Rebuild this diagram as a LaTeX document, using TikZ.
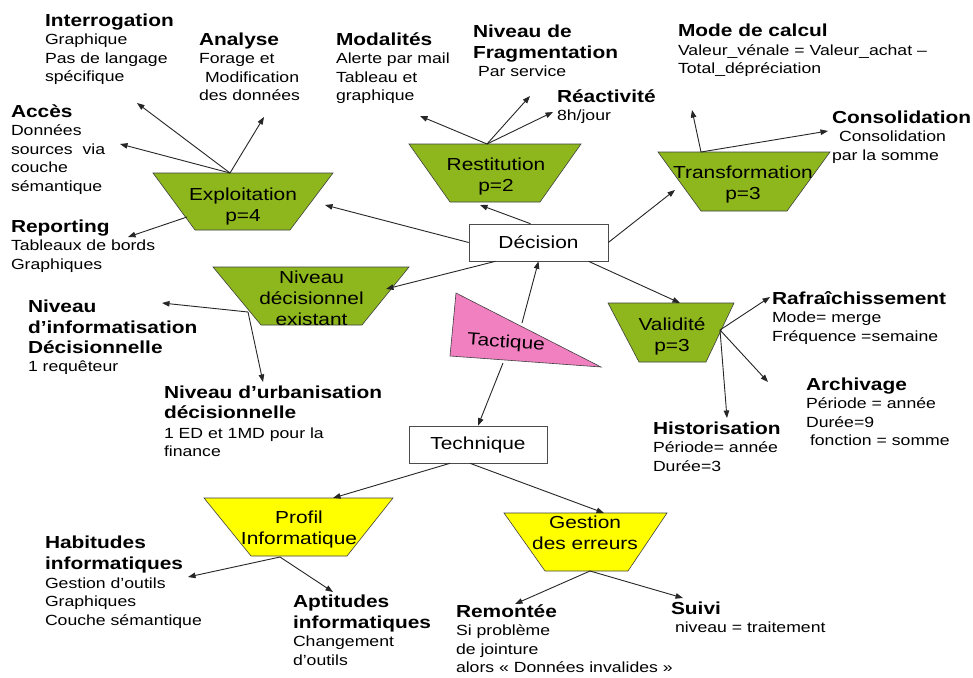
\documentclass[tikz,border=0pt]{standalone}
\usepackage{fontspec}
\setmainfont{Liberation Sans}[FakeStretch=1.2]
\usetikzlibrary{arrows.meta}
\definecolor{tgreen}{RGB}{141,183,28}
\definecolor{tyellow}{RGB}{255,255,0}
\definecolor{tpink}{RGB}{240,128,192}
\newcommand\bodyfont{\fontsize{14.7}{18.5}\selectfont}
\newcommand\headfont{\fontsize{17.4}{20}\selectfont\bfseries}
\newcommand\boxfont{\fontsize{17.4}{21}\selectfont}
\newcommand\hdtxt[1]{{\headfont\rule{0pt}{14pt}#1}}
\newcommand\topst{\rule{0pt}{13pt}}
\begin{document}
\begin{tikzpicture}[x=1pt,y=-1pt,
  conn/.style={draw=black!85, line width=0.9pt, -{Triangle[length=7.5pt,width=5.5pt]}},
  trap/.style={draw=black!75, line width=0.6pt},
  lbl/.style={anchor=north west, inner sep=0pt, outer sep=0pt, align=left, font=\bodyfont, text=black},
  boxtxt/.style={anchor=north, inner sep=0pt, align=center, font=\boxfont},
  rectbox/.style={draw=black!70, line width=0.6pt, fill=white, minimum height=37pt, inner sep=0pt, font=\boxfont}]
\fill[white] (0,0) rectangle (973,677);
\useasboundingbox (0,0) rectangle (973,677);

% ---- shapes ----
\path[trap, fill=tgreen] (153,173) -- (333,173) -- (290,230) -- (195,230) -- cycle;
\node[boxtxt] (expl) at (243,187) {\topst Exploitation\\p=4};
\path[trap, fill=tgreen] (409,144) -- (581,144) -- (540,202) -- (450,202) -- cycle;
\node[boxtxt] (rest) at (496,157) {\topst Restitution\\p=2};
\path[trap, fill=tgreen] (658,152) -- (830,152) -- (787,211) -- (701,211) -- cycle;
\node[boxtxt] (trans) at (743,165) {\topst Transformation\\p=3};
\path[trap, fill=tgreen] (213,267) -- (409,267) -- (362,325) -- (261,325) -- cycle;
\node[boxtxt] (nivd) at (311.5,270) {\topst Niveau\\décisionnel\\existant};
\path[trap, fill=tgreen] (608,303) -- (734,303) -- (706,362) -- (639,362) -- cycle;
\node[boxtxt] (valid) at (672,317) {\topst Validité\\p=3};
\path[trap, fill=tyellow] (204,498) -- (393,498) -- (347,556) -- (251,556) -- cycle;
\node[boxtxt] (prof) at (299,510) {\topst Profil\\Informatique};
\path[trap, fill=tyellow] (504,513) -- (667,513) -- (628,571) -- (545,571) -- cycle;
\node[boxtxt] (gest) at (585,515) {\topst Gestion\\des erreurs};
\path[trap, fill=tpink] (456,293) -- (450,356) -- (601,367) -- cycle;
\node[font=\boxfont, rotate=-4, inner sep=0pt] (tac) at (506,343) {Tactique};

\node[rectbox, minimum width=139pt] (dec) at (538.5,242.5) {Décision};
\node[rectbox, minimum width=138pt] (tech) at (478,444.5) {Technique};

% ---- labels ----
\node[lbl] (l-int) at (45,12) {\hdtxt{Interrogation}\\Graphique\\Pas de langage\\spécifique};
\node[lbl] (l-ana) at (199,31) {\hdtxt{Analyse}\\Forage et\\\hspace*{6pt}Modification\\des données};
\node[lbl] (l-acc) at (11,103) {\hdtxt{Accès}\\Données\\sources\ \ via\\couche\\sémantique};
\node[lbl] (l-rep) at (11,218) {\hdtxt{Reporting}\\Tableaux de bords\\Graphiques};
\node[lbl] (l-mod) at (336,31) {\hdtxt{Modalités}\\Alerte par mail\\Tableau et\\graphique};
\node[lbl] (l-fra) at (473,23) {\hdtxt{Niveau de}\\[2.5pt]\hdtxt{Fragmentation}\\\hspace*{5pt}Par service};
\node[lbl] (l-rea) at (557,88) {\hdtxt{Réactivité}\\8h/jour};
\node[lbl] (l-cal) at (678,23) {\hdtxt{Mode de calcul}\\Valeur\_vénale = Valeur\_achat –\\Total\_dépréciation};
\node[lbl] (l-con) at (832,109) {\hdtxt{Consolidation}\\\hspace*{7pt}Consolidation\\par la somme};
\node[lbl] (l-inf) at (28,298) {\hdtxt{Niveau}\\[2.5pt]\hdtxt{d’informatisation}\\[1.5pt]\hdtxt{Décisionnelle}\\1 requêteur};
\node[lbl] (l-urb) at (164,384) {\hdtxt{Niveau d’urbanisation}\\[1.5pt]\hdtxt{décisionnelle}\\[1.5pt]1 ED et 1MD pour la\\finance};
\node[lbl] (l-raf) at (772,290) {\hdtxt{Rafraîchissement}\\Mode= merge\\Fréquence =semaine};
\node[lbl] (l-arc) at (806,376) {\hdtxt{Archivage}\\Période = année\\Durée=9\\\hspace*{4pt}fonction = somme};
\node[lbl] (l-his) at (653,420) {\hdtxt{Historisation}\\Période= année\\Durée=3};
\node[lbl] (l-hab) at (45,534) {\hdtxt{Habitudes}\\[3pt]\hdtxt{informatiques}\\Gestion d’outils\\Graphiques\\Couche sémantique};
\node[lbl] (l-apt) at (293,593) {\hdtxt{Aptitudes}\\[2.5pt]\hdtxt{informatiques}\\Changement\\d’outils};
\node[lbl] (l-rem) at (456,603) {\hdtxt{Remontée}\\Si problème\\de jointure\\alors « Données invalides »};
\node[lbl] (l-sui) at (671,600) {\hdtxt{Suivi}\\\hspace*{4pt}niveau = traitement};

% ---- connector points ----
\coordinate (e-top) at (230,173);
\coordinate (e-lft) at (187,217);
\coordinate (e-rgt) at (325,205);
\coordinate (p-int) at (137,103);
\coordinate (p-ana) at (264,117);
\coordinate (p-acc) at (120,144);
\coordinate (p-rep) at (128,237);
\coordinate (r-top) at (487,144);
\coordinate (r-bot) at (480,205);
\coordinate (p-mod) at (420,116);
\coordinate (p-fra) at (530,96);
\coordinate (p-rea) at (553,112);
\coordinate (t-top) at (701,152);
\coordinate (t-lft) at (675,190);
\coordinate (p-cal) at (692,110);
\coordinate (p-con) at (828,131);
\coordinate (n-rgt) at (386,289);
\coordinate (n-lft) at (248,312);
\coordinate (p-inf) at (162,303);
\coordinate (p-urb) at (263,382);
\coordinate (v-top) at (680,303);
\coordinate (v-rgt) at (720,330);
\coordinate (p-raf) at (770,297);
\coordinate (p-arc) at (768,382);
\coordinate (p-his) at (727,418);
\coordinate (ta-up) at (522,323);
\coordinate (ta-dn) at (503,363);
\coordinate (pr-top) at (333,498);
\coordinate (pr-bot) at (280,557);
\coordinate (p-hab) at (188,577);
\coordinate (p-apt) at (333,592);
\coordinate (g-top) at (604,513);
\coordinate (g-bot) at (590,571);
\coordinate (p-rem) at (515,604);
\coordinate (p-sui) at (683,598);

% ---- connectors ----
\draw[conn] (e-top) -- (p-int);
\draw[conn] (e-top) -- (p-ana);
\draw[conn] (e-top) -- (p-acc);
\draw[conn] (e-lft) -- (p-rep);
\draw[conn] (dec.west) -- (e-rgt);
\draw[conn] ([xshift=-8pt]dec.north) -- (r-bot);
\draw[conn] (r-top) -- (p-mod);
\draw[conn] (r-top) -- (p-fra);
\draw[conn] (r-top) -- (p-rea);
\draw[conn] (dec.east) -- (t-lft);
\draw[conn] (t-top) -- (p-cal);
\draw[conn] (t-top) -- (p-con);
\draw[conn] ([xshift=-43pt]dec.south) -- (n-rgt);
\draw[conn] (n-lft) -- (p-inf);
\draw[conn] (n-lft) -- (p-urb);
\draw[conn] ([xshift=50pt]dec.south) -- (v-top);
\draw[conn] (v-rgt) -- (p-raf);
\draw[conn] (v-rgt) -- (p-arc);
\draw[conn] (v-rgt) -- (p-his);
\draw[conn] (ta-up) -- (dec.south);
\draw[conn] (ta-dn) -- (tech.north);
\draw[conn] ([xshift=-28pt]tech.south) -- (pr-top);
\draw[conn] ([xshift=-8pt]tech.south) -- (g-top);
\draw[conn] (pr-bot) -- (p-hab);
\draw[conn] (pr-bot) -- (p-apt);
\draw[conn] (g-bot) -- (p-rem);
\draw[conn] (g-bot) -- (p-sui);
\end{tikzpicture}
\end{document}
